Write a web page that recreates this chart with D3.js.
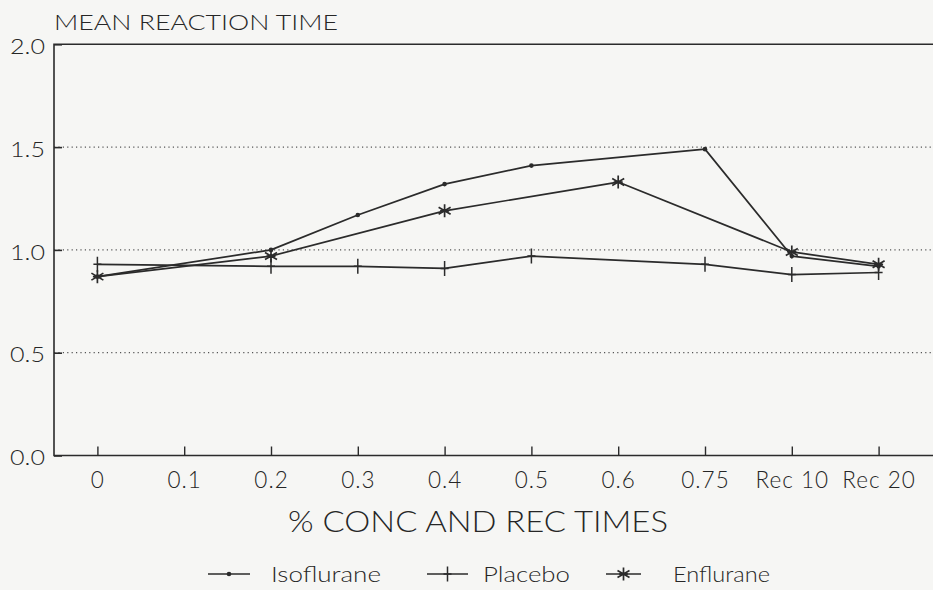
<!DOCTYPE html>
<html>
<head>
<meta charset="utf-8">
<script src="https://cdn.jsdelivr.net/npm/d3@7/dist/d3.min.js"></script>
<style>
  html, body { margin: 0; padding: 0; background: #f6f6f4; }
  svg { display: block; }
  text { font-family: Lato, "Liberation Sans", Arial, sans-serif; font-weight: 300; fill: #262626; }
</style>
</head>
<body>
<svg id="chart" width="933" height="590"></svg>
<script>
// Concentration steps and recovery times along the x axis
const categories = ["0", "0.1", "0.2", "0.3", "0.4", "0.5", "0.6", "0.75", "Rec 10", "Rec 20"];

// Mean reaction time per step (null = not measured at that step)
const isoflurane = [0.87, null, 1.00, 1.17, 1.32, 1.41, null, 1.49, 0.97, 0.92];
const placebo    = [0.93, null, 0.92, 0.92, 0.91, 0.97, null, 0.93, 0.88, 0.89];
const enflurane  = [0.87, null, 0.97, null, 1.19, null, 1.33, null, 0.99, 0.93];

const yTicks = [0, 0.5, 1.0, 1.5, 2.0];
const gridValues = [0.5, 1.0, 1.5];

const seriesNames = ["Isoflurane", "Placebo", "Enflurane"];

const ink = "#2b2b2b";
const svg = d3.select("#chart");

const plotLeft = 54, plotRight = 922, plotTop = 44.3, plotBottom = 455.5;

const x = d3.scalePoint().domain(categories).range([plotLeft, plotRight]).padding(0.5);
const y = d3.scaleLinear().domain([0, 2]).range([plotBottom, plotTop]);

// dotted horizontal grid
svg.append("g").selectAll("line")
  .data(gridValues).join("line")
  .attr("x1", plotLeft).attr("x2", 940)
  .attr("y1", d => y(d)).attr("y2", d => y(d))
  .attr("stroke", "#555").attr("stroke-width", 1.2)
  .attr("stroke-dasharray", "1.2,3.2");

// plot frame: top, left, bottom (runs past the right edge)
svg.append("path")
  .attr("d", `M940,${y(2)}H${plotLeft}V${y(0)}H940`)
  .attr("fill", "none").attr("stroke", ink).attr("stroke-width", 1.6);

// y axis
const yAxis = svg.append("g")
  .attr("transform", `translate(${plotLeft},0)`)
  .call(d3.axisLeft(y).tickValues(yTicks).tickFormat(d3.format(".1f"))
    .tickSizeInner(-8).tickSizeOuter(0).tickPadding(9));
yAxis.select(".domain").remove();
yAxis.selectAll(".tick line").attr("stroke", ink).attr("stroke-width", 1.6);
yAxis.selectAll(".tick text")
  .attr("font-size", 22).attr("dy", "0.42em")
  .attr("textLength", 35).attr("lengthAdjust", "spacingAndGlyphs");

// x axis
const xAxis = svg.append("g")
  .attr("transform", `translate(0,${y(0)})`)
  .call(d3.axisBottom(x).tickSizeInner(-9).tickSizeOuter(0).tickPadding(16.5));
xAxis.select(".domain").remove();
xAxis.selectAll(".tick line").attr("stroke", ink).attr("stroke-width", 1.4);
xAxis.selectAll(".tick text").attr("font-size", 22.5).attr("letter-spacing", 1);

// series lines
const line = d3.line()
  .x(d => x(d.c))
  .y(d => y(d.v));

function points(values) {
  return values.map((v, i) => ({ c: categories[i], v })).filter(d => d.v !== null);
}

const seriesData = [isoflurane, placebo, enflurane].map(points);

svg.append("g").selectAll("path")
  .data(seriesData).join("path")
  .attr("d", line)
  .attr("fill", "none")
  .attr("stroke", ink)
  .attr("stroke-width", 1.7)
  .attr("stroke-linejoin", "round");

// marker shapes
function drawMarker(g, kind) {
  if (kind === 0) {
    g.append("circle").attr("r", 2.3).attr("fill", ink);
  } else if (kind === 1) {
    g.append("path").attr("d", "M0,-7.5V7.5M-4,0H4")
      .attr("stroke", ink).attr("stroke-width", 1.5).attr("fill", "none");
  } else {
    g.append("path").attr("d", "M0,-6.5V6.5M-6,-3.5L6,3.5M-6,3.5L6,-3.5M-4.5,0H4.5")
      .attr("stroke", ink).attr("stroke-width", 1.7).attr("fill", "none");
  }
}

seriesData.forEach((pts, k) => {
  const g = svg.append("g");
  pts.forEach(d => {
    const m = g.append("g").attr("transform", `translate(${x(d.c)},${y(d.v)})`);
    drawMarker(m, k);
  });
});

// titles
svg.append("text")
  .attr("x", 54).attr("y", 29.5)
  .attr("font-size", 21)
  .attr("textLength", 284).attr("lengthAdjust", "spacingAndGlyphs")
  .text("MEAN REACTION TIME");

svg.append("text")
  .attr("x", 288).attr("y", 532)
  .attr("font-size", 30)
  .attr("textLength", 380).attr("lengthAdjust", "spacingAndGlyphs")
  .text("% CONC AND REC TIMES");

// legend
const legendItems = [
  { name: seriesNames[0], x1: 208, x2: 250, tx: 271, tw: 110 },
  { name: seriesNames[1], x1: 427, x2: 468, tx: 483, tw: 87 },
  { name: seriesNames[2], x1: 606, x2: 641, tx: 673, tw: 97 }
];
const legendY = 574;
legendItems.forEach((it, k) => {
  const g = svg.append("g");
  g.append("line")
    .attr("x1", it.x1).attr("x2", it.x2)
    .attr("y1", legendY).attr("y2", legendY)
    .attr("stroke", ink).attr("stroke-width", 1.6);
  const m = g.append("g").attr("transform", `translate(${(it.x1 + it.x2) / 2},${legendY})`);
  drawMarker(m, k);
  g.append("text")
    .attr("x", it.tx).attr("y", legendY + 7.5)
    .attr("font-size", 21)
    .attr("textLength", it.tw).attr("lengthAdjust", "spacingAndGlyphs")
    .text(it.name);
});
</script>
</body>
</html>
